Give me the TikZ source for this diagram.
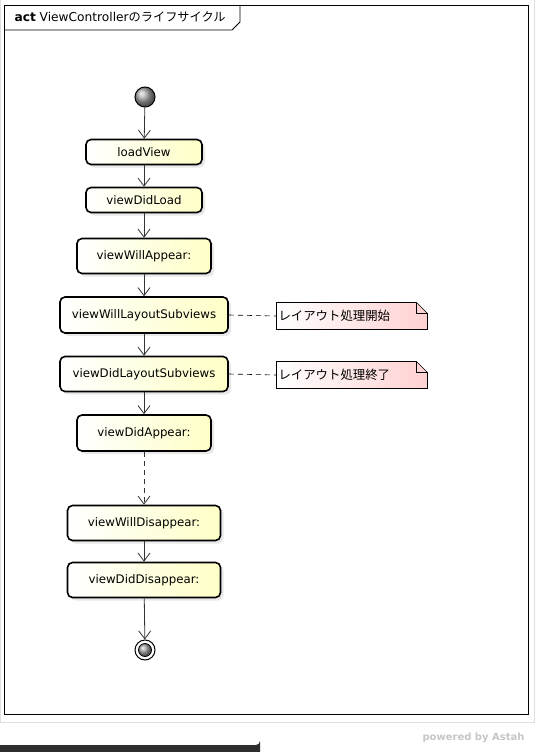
\documentclass[tikz,border=0pt]{standalone}
\usepackage{fontspec}
\setmainfont{DejaVu Sans}
\newfontfamily\jp{Noto Sans CJK JP}
\usetikzlibrary{arrows.meta,shadows}

\tikzset{
  actbox/.style={draw, line width=1.6pt, rounded corners=5pt, left color=white, right color=yellow!22,
    drop shadow={opacity=0.18, shadow xshift=3pt, shadow yshift=-3pt},
    font=\fontsize{11.8}{13}\selectfont, inner sep=0pt, minimum height=25pt},
  flow/.style={-{Straight Barb[length=8pt,width=12pt]}, line width=0.8pt, black!80},
  notebox/.style={inner sep=2pt, minimum height=27pt, minimum width=151pt, text width=147pt, align=left,
    font=\jp\fontsize{12.4}{13}\selectfont},
  noteline/.style={dashed, line width=0.6pt, dash pattern=on 5pt off 4pt}
}

\begin{document}
\begin{tikzpicture}[x=1pt, y=-1pt]
  \useasboundingbox (0,0) rectangle (546,752);
  % frame
  \draw[gray!25, line width=1pt] (0,0) rectangle (534,722);
  \draw[line width=0.8pt, fill=white] (4,5) rectangle (528,714);
  \draw[line width=0.8pt] (4,30) -- (232,30) -- (240,22) -- (240,5);
  \node[anchor=west, font=\fontsize{12.2}{14}\selectfont] (title) at (11,17) {\textbf{act} ViewController{\jp のライフサイクル}};

  % start / end
  \shade[ball color=gray!70] (145,97) circle (10);
  \node[circle, draw, line width=1pt, minimum size=20pt, inner sep=0pt] (start) at (145,97) {};
  \node[circle, draw, line width=1pt, minimum size=20pt, inner sep=0pt, fill=white] (stop) at (145,650) {};
  \shade[ball color=gray!70] (145,650) circle (6.5);
  \draw[line width=0.8pt] (145,650) circle (6.5);

  % actions
  \node[actbox, minimum width=116pt] (load) at (144,152) {loadView};
  \node[actbox, minimum width=116pt] (didload) at (144,200) {viewDidLoad};
  \node[actbox, minimum width=134pt, minimum height=35pt] (willappear) at (144,256) {viewWillAppear:};
  \node[actbox, minimum width=168pt, minimum height=36pt] (willlayout) at (144,315) {viewWillLayoutSubviews};
  \node[actbox, minimum width=168pt, minimum height=35pt] (didlayout) at (144,374) {viewDidLayoutSubviews};
  \node[actbox, minimum width=134pt, minimum height=36pt] (didappear) at (144,433) {viewDidAppear:};
  \node[actbox, minimum width=153pt, minimum height=35pt] (willdis) at (144,523) {viewWillDisappear:};
  \node[actbox, minimum width=153pt, minimum height=35pt] (diddis) at (144,580) {viewDidDisappear:};

  % notes
  \coordinate (n1) at (352,316);
  \coordinate (n2) at (352,375);
  \foreach \n in {n1,n2}{
    \draw[line width=0.6pt, left color=white, right color=red!18]
      ([shift={(-75.5,-13.5)}]\n) -- ([shift={(64.5,-13.5)}]\n) -- ([shift={(75.5,-2.5)}]\n)
      -- ([shift={(75.5,13.5)}]\n) -- ([shift={(-75.5,13.5)}]\n) -- cycle;
    \draw[line width=0.6pt] ([shift={(64.5,-13.5)}]\n) -- ([shift={(64.5,-2.5)}]\n) -- ([shift={(75.5,-2.5)}]\n);
  }
  \node[notebox] (note1) at (n1) {レイアウト処理開始};
  \node[notebox] (note2) at (n2) {レイアウト処理終了};
  \draw[noteline] (willlayout.east) -- (note1.west);
  \draw[noteline] (didlayout.east) -- (note2.west);

  % flows
  \draw[flow] (start) -- (load);
  \draw[flow] (load) -- (didload);
  \draw[flow] (didload) -- (willappear);
  \draw[flow] (willappear) -- (willlayout);
  \draw[flow] (willlayout) -- (didlayout);
  \draw[flow] (didlayout) -- (didappear);
  \draw[flow, dashed, dash pattern=on 5pt off 4pt] (didappear) -- (willdis);
  \draw[flow] (willdis) -- (diddis);
  \draw[flow] (diddis) -- (stop);

  % footer
  \node[anchor=east, text=gray!45, font=\bfseries\fontsize{10}{12}\selectfont] (astah) at (528,738) {powered by Astah};
  \fill[black!82] (0,745) -- (256,745) arc[start angle=90, end angle=0, radius=4] -- (260,752) -- (0,752) -- cycle;
\end{tikzpicture}
\end{document}
